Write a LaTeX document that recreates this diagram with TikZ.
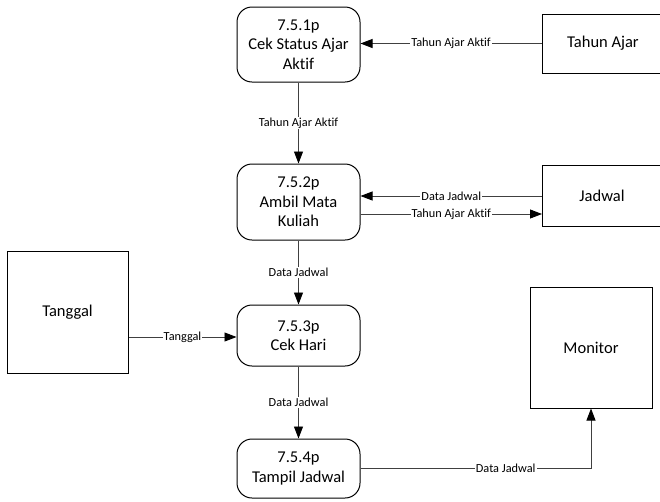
\documentclass[tikz,border=0pt]{standalone}
\usepackage{fontspec}
\setmainfont[Ligatures={NoCommon}]{Carlito}
\usetikzlibrary{arrows.meta}
\tikzset{
  proc/.style={draw=black, line width=1pt, rounded corners=15pt, minimum width=123pt,
    align=center, font=\fontsize{16.5}{19.5}\selectfont, inner sep=0pt},
  ent/.style={draw=black, line width=1pt, align=center,
    font=\fontsize{16.5}{19.5}\selectfont, inner sep=0pt},
  flow/.style={draw=black!75, line width=0.9pt,
    -{Triangle[length=12pt,width=9pt,color=black]}},
  lbl/.style={fill=white, inner sep=1pt, font=\fontsize{12.3}{14}\selectfont}
}
\begin{document}
\begin{tikzpicture}[x=1pt, y=-1pt]
\clip (0,0) rectangle (660,501);
\fill[white] (0,0) rectangle (660,501);

% processes
\node[proc, minimum height=75pt] (p1) at (298.5,44.5) {7.5.1p\\Cek Status Ajar\\Aktif};
\node[proc, minimum height=76pt] (p2) at (298.5,202) {7.5.2p\\Ambil Mata\\Kuliah};
\node[proc, minimum height=61pt] (p3) at (298.5,335.5) {7.5.3p\\Cek Hari};
\node[proc, minimum height=59pt] (p4) at (298.5,468.5) {7.5.4p\\Tampil Jadwal};

% external entities
\node[ent, minimum width=122pt, minimum height=59pt] (ta) at (603,43.5) {Tahun Ajar};
\node[ent, minimum width=120pt, minimum height=61pt] (jd) at (602,195.5) {Jadwal};
\node[ent, minimum width=121pt, minimum height=122pt] (tg) at (67.5,312) {Tanggal};
\node[ent, minimum width=122pt, minimum height=121pt] (mo) at (591,347.5) {Monitor};

% anchor points for offset flows
\coordinate (jin) at (542,196);
\coordinate (jout) at (542,214);
\coordinate (tin) at (128,337);

% data flows
\draw[flow] (ta.west) -- node[lbl]{Tahun Ajar Aktif} (ta.west -| p1.east);
\draw[flow] (p1.south) -- node[lbl]{Tahun Ajar Aktif} (p2.north);
\draw[flow] (jin) -- node[lbl]{Data Jadwal} (jin -| p2.east);
\draw[flow] (jout -| p2.east) -- node[lbl]{Tahun Ajar Aktif} (jout);
\draw[flow] (p2.south) -- node[lbl]{Data Jadwal} (p3.north);
\draw[flow] (tin -| tg.east) -- node[lbl]{Tanggal} (tin -| p3.west);
\draw[flow] (p3.south) -- node[lbl]{Data Jadwal} (p4.north);
\draw[flow] (p4.east) -- node[lbl, pos=0.63]{Data Jadwal} (p4.east -| mo.south) -- (mo.south);
\end{tikzpicture}
\end{document}
